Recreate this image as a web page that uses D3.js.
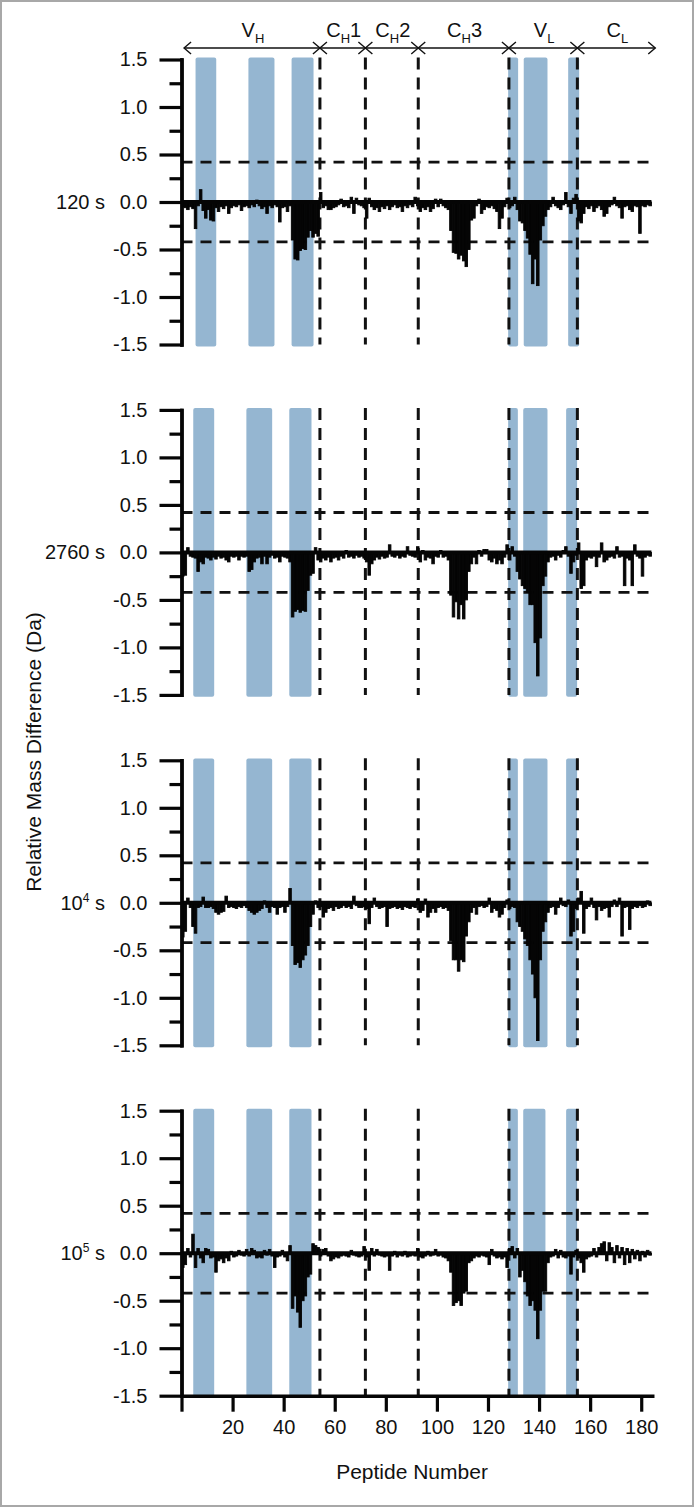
<!DOCTYPE html>
<html><head><meta charset="utf-8">
<script src="https://cdn.jsdelivr.net/npm/d3@7"></script>
<style>body{margin:0;background:#fff}svg{display:block}</style>
</head><body>
<svg id="chart" width="694" height="1507"></svg>
<script>
// ---------------- data ----------------
const timeLabels = ["120 s", "2760 s", "10^4 s", "10^5 s"];

const mass120 = [
-0.05,-0.06,-0.08,-0.05,-0.07,-0.28,-0.04,0.13,-0.09,-0.17,
-0.08,-0.19,-0.2,-0.06,-0.1,-0.05,-0.07,-0.04,-0.12,-0.06,
-0.04,-0.05,-0.03,-0.09,-0.05,-0.04,-0.06,-0.03,-0.05,0.02,
-0.04,-0.07,-0.05,-0.12,-0.04,-0.06,-0.03,-0.05,-0.21,-0.06,
-0.05,-0.1,-0.04,-0.4,-0.6,-0.61,-0.51,-0.49,-0.5,-0.37,
-0.3,-0.37,-0.33,-0.36,0.1,-0.06,-0.04,-0.08,-0.08,-0.06,
-0.05,-0.03,0.03,-0.05,-0.04,-0.06,0.05,-0.12,0.04,-0.03,
-0.04,-0.06,-0.17,0.04,-0.05,-0.08,-0.06,-0.1,-0.05,-0.07,
-0.04,-0.08,-0.05,-0.03,-0.06,-0.05,-0.1,-0.04,-0.06,-0.03,
-0.05,0.05,-0.04,-0.1,-0.06,-0.08,-0.05,-0.1,-0.07,0.03,
-0.05,0.03,-0.04,-0.06,-0.08,-0.3,-0.53,-0.54,-0.6,-0.56,
-0.62,-0.68,-0.5,-0.19,-0.17,-0.04,0.03,-0.12,-0.08,-0.05,
-0.06,-0.04,-0.07,-0.1,-0.28,-0.17,-0.05,0.04,-0.06,-0.04,
0.05,-0.08,-0.2,-0.22,-0.3,-0.38,-0.55,-0.86,-0.6,-0.88,
-0.4,-0.25,-0.15,-0.08,-0.05,0.05,-0.04,-0.06,-0.08,-0.03,
0.1,-0.05,-0.12,0.04,0.08,-0.2,-0.22,-0.12,-0.05,-0.07,
-0.04,-0.1,-0.06,-0.04,-0.08,-0.15,-0.12,-0.05,-0.03,0.05,
-0.04,-0.06,-0.17,-0.05,-0.04,-0.08,-0.1,-0.04,-0.05,-0.33,-0.04,-0.05,-0.03,-0.04];

const mass2760 = [
-0.25,-0.24,0.05,-0.04,-0.05,-0.06,-0.2,-0.1,-0.12,-0.05,
-0.06,-0.08,-0.05,-0.07,-0.04,-0.06,-0.05,-0.08,-0.1,-0.04,
-0.05,-0.04,-0.08,-0.04,-0.05,-0.04,-0.2,-0.18,-0.1,-0.06,
-0.05,-0.12,-0.04,-0.12,-0.05,-0.03,-0.06,-0.05,-0.1,-0.04,
-0.05,-0.06,-0.1,-0.68,-0.62,-0.6,-0.63,-0.61,-0.62,-0.4,
-0.24,-0.22,0.05,-0.08,-0.1,-0.06,-0.08,-0.05,-0.1,-0.06,
-0.05,-0.08,-0.04,-0.06,0.02,-0.05,-0.04,-0.06,-0.03,-0.05,
-0.04,-0.06,-0.1,-0.24,-0.12,-0.08,-0.05,-0.07,-0.04,-0.06,
-0.05,0.08,-0.04,-0.05,-0.03,-0.06,-0.04,-0.05,0.06,-0.03,
-0.04,-0.05,0.06,-0.1,0.02,-0.08,-0.05,-0.06,-0.12,-0.04,
-0.05,0.02,-0.05,-0.04,-0.08,-0.45,-0.68,-0.52,-0.7,-0.55,
-0.7,-0.5,-0.2,-0.12,-0.05,-0.12,0.02,-0.04,0.03,0.03,
-0.08,-0.1,-0.06,-0.12,-0.08,-0.12,-0.05,0.08,-0.08,0.06,
-0.04,-0.2,-0.28,-0.35,-0.38,-0.42,-0.55,-0.55,-0.95,-1.3,
-0.9,-0.35,-0.25,-0.1,-0.05,-0.04,-0.08,-0.03,-0.05,0.02,
0.06,-0.04,-0.22,-0.1,-0.03,0.1,-0.38,-0.35,-0.08,-0.05,
-0.06,-0.04,-0.15,-0.05,0.1,-0.1,-0.08,-0.05,-0.04,-0.06,
0.06,-0.05,-0.04,-0.35,-0.06,-0.08,-0.35,0.08,-0.04,-0.06,-0.25,-0.05,-0.03,-0.04];

const mass1e4 = [
-0.36,-0.3,0.05,-0.05,-0.25,-0.32,-0.05,-0.04,0.06,-0.05,
-0.05,-0.04,-0.06,-0.1,-0.12,-0.1,-0.09,0.07,-0.05,-0.04,
-0.05,-0.06,-0.04,-0.05,-0.03,-0.05,-0.08,-0.1,-0.12,-0.1,
-0.08,-0.06,0.02,-0.05,-0.1,-0.04,-0.05,-0.12,-0.05,-0.04,
-0.1,-0.04,0.15,-0.45,-0.65,-0.63,-0.68,-0.6,-0.55,-0.45,
-0.25,-0.12,0.02,-0.05,-0.04,-0.15,-0.1,-0.06,-0.05,-0.08,
-0.04,-0.06,-0.05,-0.03,-0.05,-0.04,-0.06,0.07,-0.03,-0.05,
-0.05,-0.04,-0.06,-0.22,-0.05,0.05,-0.04,-0.06,-0.05,-0.04,
-0.25,-0.06,-0.05,-0.04,-0.06,-0.05,-0.07,-0.04,-0.05,-0.06,
-0.04,-0.05,0.04,-0.1,-0.08,0.04,-0.15,-0.1,-0.06,-0.1,
-0.05,-0.04,-0.06,-0.05,-0.08,-0.4,-0.6,-0.6,-0.72,-0.6,
-0.62,-0.35,-0.2,-0.1,-0.05,-0.12,-0.04,-0.03,-0.05,-0.04,
0.05,-0.1,-0.06,-0.08,-0.15,-0.12,-0.05,0.03,-0.06,-0.04,
-0.05,-0.2,-0.25,-0.3,-0.38,-0.45,-0.6,-0.75,-1.0,-1.45,
-0.6,-0.3,-0.2,-0.1,-0.05,-0.04,-0.12,-0.05,0.05,-0.03,
-0.04,0.03,-0.35,-0.3,-0.06,0.05,0.12,-0.32,-0.06,-0.04,
0.05,-0.05,-0.18,-0.04,-0.08,-0.06,-0.05,-0.15,-0.04,0.03,
-0.04,0.05,-0.35,-0.05,-0.04,-0.28,-0.06,-0.04,-0.05,-0.03,-0.05,-0.04,0.02,-0.03];

const mass1e5 = [
-0.15,-0.12,0.05,-0.04,0.2,-0.15,0.05,-0.05,-0.1,0.05,
0.04,-0.05,-0.04,-0.2,-0.08,-0.06,-0.1,-0.05,-0.08,0.02,
-0.04,-0.03,0.03,-0.02,-0.03,0.04,-0.03,0.05,0.03,-0.05,
-0.04,-0.05,0.03,-0.02,0.04,-0.03,-0.15,-0.04,-0.03,0.03,
-0.04,-0.08,0.08,-0.58,-0.45,-0.62,-0.78,-0.5,-0.45,-0.25,
-0.22,0.1,0.08,0.06,-0.03,0.04,0.05,-0.03,-0.08,-0.06,
-0.04,-0.05,-0.03,-0.02,-0.03,-0.04,0.03,-0.02,-0.03,-0.04,
-0.03,0.07,-0.04,-0.18,0.05,-0.03,0.04,-0.02,-0.03,-0.04,
-0.03,-0.18,-0.03,0.02,-0.04,-0.02,-0.03,0.02,-0.04,-0.03,
-0.02,-0.03,0.05,-0.04,-0.05,-0.03,0.02,-0.03,-0.02,0.04,
-0.03,-0.02,-0.04,-0.05,-0.08,-0.2,-0.55,-0.52,-0.5,-0.55,
-0.42,-0.4,-0.1,-0.08,-0.05,-0.03,-0.04,-0.02,-0.03,-0.04,
-0.12,0.04,-0.03,-0.05,-0.04,-0.06,-0.04,-0.15,0.05,0.07,
-0.05,0.05,-0.25,-0.18,-0.3,-0.45,-0.55,-0.5,-0.6,-0.9,
-0.6,-0.4,-0.4,-0.1,-0.04,-0.03,0.04,-0.05,0.03,-0.04,
-0.05,-0.03,-0.22,-0.04,0.03,-0.05,-0.1,-0.2,-0.06,-0.04,
-0.03,0.05,-0.04,0.06,0.1,0.12,-0.08,0.11,0.06,-0.1,
0.08,-0.05,0.06,-0.12,0.05,-0.1,0.04,-0.06,0.03,-0.08,0.02,-0.04,0.03,-0.02];

const seriesList = [mass120, mass2760, mass1e4, mass1e5];

// highlighted peptide ranges (blue bands), per panel
const bands120  = [[5.5,13.6],[26.2,36.4],[43.1,51.7],[127.9,131.8],[134,143.3],[151.4,155.7]];
const bands2760 = [[4.6,12.8],[25.4,35.5],[42.2,50.9],[127.9,131.7],[133.8,143.3],[150.6,154.9]];
const bands1e4  = [[4.6,12.8],[25.4,35.5],[42.2,50.9],[127.9,131.7],[133.8,143.3],[150.6,154.9]];
const bands1e5  = [[4.6,12.8],[25.4,35.5],[42.2,50.9],[127.9,131.7],[133.8,142.5],[150.6,154.9]];
const bandsList = [bands120, bands2760, bands1e4, bands1e5];

// domain boundaries (dashed lines) and region labels
const boundaries = [54.2, 72, 92.7, 128.2, 155];
const regionEdges = [1, 54.2, 72, 92.7, 128.2, 155, 185.5];
const regionMain = ["V", "C", "C", "C", "V", "C"];
const regionSub  = ["H", "H", "H", "H", "L", "L"];
const regionTail = ["", "1", "2", "3", "", ""];

const threshold = 0.42;
const yMajor = [-1.5,-1.0,-0.5,0,0.5,1.0,1.5];
const yMinor = [-1.25,-0.75,-0.25,0.25,0.75,1.25];
const xTicks = [0,20,40,60,80,100,120,140,160,180];

// ---------------- drawing ----------------
const FONT = "'Liberation Sans', Arial, Helvetica, sans-serif";
const svg = d3.select("#chart");
svg.append("rect").attr("x",1).attr("y",1).attr("width",692).attr("height",1505)
  .attr("fill","#fff").attr("stroke","#a8a8a8").attr("stroke-width",2);

const nPep = 184;
const x = d3.scaleLinear().domain([0, 185]).range([181.5, 181.5 + 185 * 2.554]);
const panelTop = k => 59.5 + 350.4 * k;
const panelH = 285;

// header arrows
const hdr = svg.append("g");
const arrowY = 48;
for (let r = 0; r < regionMain.length; r++) {
  const a = x(regionEdges[r]), b = x(regionEdges[r + 1]);
  hdr.append("line").attr("x1", a).attr("x2", b).attr("y1", arrowY).attr("y2", arrowY)
    .attr("stroke", "#111").attr("stroke-width", 1.4);
  hdr.append("path").attr("d", `M${a+7},${arrowY-6}L${a},${arrowY}L${a+7},${arrowY+6}`)
    .attr("fill","none").attr("stroke","#111").attr("stroke-width",1.4);
  hdr.append("path").attr("d", `M${b-7},${arrowY-6}L${b},${arrowY}L${b-7},${arrowY+6}`)
    .attr("fill","none").attr("stroke","#111").attr("stroke-width",1.4);
  const t = hdr.append("text").attr("x", (a + b) / 2 + 1).attr("y", 37)
    .attr("text-anchor","middle").attr("font-family",FONT).attr("font-size",20).attr("fill","#111");
  t.append("tspan").text(regionMain[r]);
  t.append("tspan").attr("font-size",13).attr("dy",6).text(regionSub[r]);
  if (regionTail[r]) t.append("tspan").attr("dy",-6).text(regionTail[r]);
}

seriesList.forEach((vals, k) => {
  const top = panelTop(k);
  const y = d3.scaleLinear().domain([-1.5, 1.5]).range([top + panelH, top]);
  const g = svg.append("g");

  // bands
  g.selectAll("rect.band").data(bandsList[k]).join("rect").attr("class","band")
    .attr("x", d => x(d[0])).attr("width", d => x(d[1]) - x(d[0]))
    .attr("y", y(1.52)).attr("height", y(-1.52) - y(1.52))
    .attr("rx", 2).attr("fill", "#95b6d1");

  // threshold dashed lines
  g.selectAll("line.thr").data([threshold, -threshold]).join("line").attr("class","thr")
    .attr("x1", x(0)).attr("x2", x(nPep)).attr("y1", d => y(d)).attr("y2", d => y(d))
    .attr("stroke","#111").attr("stroke-width",2.8).attr("stroke-dasharray","11,8");

  // domain boundaries
  g.selectAll("line.bnd").data(boundaries).join("line").attr("class","bnd")
    .attr("x1", d => x(d)).attr("x2", d => x(d)).attr("y1", y(1.5) - 2).attr("y2", y(-1.5))
    .attr("stroke","#111").attr("stroke-width",3).attr("stroke-dasharray","12,8");

  // bars
  g.selectAll("rect.bar").data(vals).join("rect").attr("class","bar")
    .attr("x", (d, i) => x(i)).attr("width", (d, i) => x(i + 1) - x(i))
    .attr("y", d => y(Math.max(0, d))).attr("height", d => Math.abs(y(d) - y(0)))
    .attr("fill","#050505").attr("stroke","#050505").attr("stroke-width",0.9);

  // zero line
  g.append("line").attr("x1", x(0)).attr("x2", x(nPep)).attr("y1", y(0)).attr("y2", y(0))
    .attr("stroke","#050505").attr("stroke-width",4);

  // y axis
  const ax = g.append("g").attr("transform", `translate(${x(0)},0)`)
    .call(d3.axisLeft(y).tickValues(yMajor).tickSize(22).tickPadding(12).tickSizeOuter(0)
      .tickFormat(d => d.toFixed(1)));
  const axm = g.append("g").attr("transform", `translate(${x(0)},0)`)
    .call(d3.axisLeft(y).tickValues(yMinor).tickSize(12).tickSizeOuter(0).tickFormat(""));
  [ax, axm].forEach(a => {
    a.select(".domain").attr("stroke","#050505").attr("stroke-width",3.4).attr("stroke-linecap","square");
    a.selectAll(".tick line").attr("stroke","#050505").attr("stroke-width",3.2);
    a.selectAll("text").attr("font-family",FONT).attr("font-size",20).attr("fill","#111");
  });

  // time label
  const parts = timeLabels[k].split("^");
  const tl = g.append("text").attr("x", 105).attr("y", y(0) + 7).attr("text-anchor","end")
    .attr("font-family",FONT).attr("font-size",20).attr("fill","#111");
  if (parts.length === 1) tl.text(parts[0]);
  else {
    tl.append("tspan").text(parts[0]);
    tl.append("tspan").attr("font-size",12).attr("dy",-8).text(parts[1].charAt(0));
    tl.append("tspan").attr("dy",8).text(parts[1].slice(1));
  }

  // x axis on bottom panel
  if (k === seriesList.length - 1) {
    const xa = g.append("g").attr("transform", `translate(0,${y(-1.5)})`)
      .call(d3.axisBottom(x).tickValues(xTicks).tickSize(16).tickPadding(8).tickSizeOuter(0)
        .tickFormat(d => d === 0 ? "" : d));
    xa.select(".domain").attr("stroke","#050505").attr("stroke-width",3.6);
    xa.selectAll(".tick line").attr("stroke","#050505").attr("stroke-width",3.2);
    xa.selectAll("text").attr("font-family",FONT).attr("font-size",20).attr("fill","#111");
  }
});

// axis titles
svg.append("text").attr("transform","translate(41,752) rotate(-90)").attr("text-anchor","middle")
  .attr("font-family",FONT).attr("font-size",21).attr("fill","#111").text("Relative Mass Difference (Da)");
svg.append("text").attr("x", 412).attr("y", 1479).attr("text-anchor","middle")
  .attr("font-family",FONT).attr("font-size",21).attr("fill","#111").text("Peptide Number");
</script>
</body></html>
